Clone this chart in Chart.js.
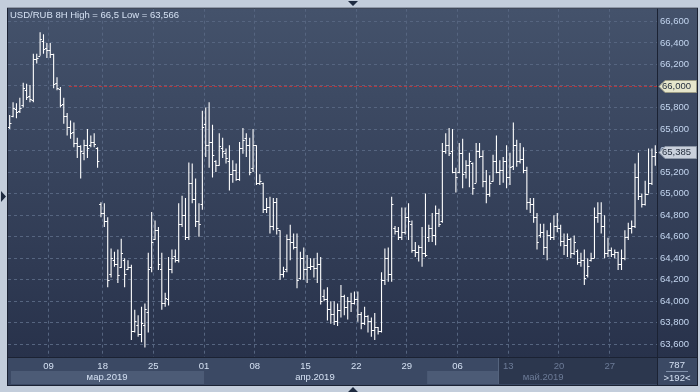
<!DOCTYPE html>
<html>
<head>
<meta charset="utf-8">
<script src="https://cdn.jsdelivr.net/npm/chart.js@4.4.1/dist/chart.umd.min.js"></script>
<style>
  html, body { margin: 0; padding: 0; background: #c3cddb; }
  canvas { display: block; }
</style>
</head>
<body>
<canvas id="chart" width="700" height="392"></canvas>
<script>
// USD/RUB, 8H bars, 192 of them (index 0..191)
const titleText = "USD/RUB 8H High = 66,5 Low = 63,566";

const openP = [
  65.62, 65.72, 65.79, 65.77, 65.82, 65.96, 65.91, 65.87, 66.25, 66.28, 66.42, 66.35,
  66.33, 66.30, 66.03, 65.97, 65.83, 65.72, 65.62, 65.57, 65.47, 65.44, 65.38, 65.45,
  65.45, 65.48, 65.42, 64.90, 64.82, 64.75, 64.25, 64.38, 64.35, 64.32, 64.38, 64.30,
  64.32, 63.72, 63.78, 63.70, 63.78, 63.90, 64.32, 64.58, 64.66, 64.30, 63.98, 64.02,
  64.30, 64.42, 64.38, 64.72, 64.80, 64.60, 65.10, 64.95, 64.75, 64.90, 65.65, 65.45,
  65.48, 65.30, 65.27, 65.42, 65.38, 65.30, 65.18, 65.22, 65.14, 65.42, 65.52, 65.45,
  65.24, 65.45, 65.10, 65.10, 64.86, 64.88, 64.70, 64.92, 64.66, 64.25, 64.30, 64.58,
  64.55, 64.50, 64.22, 64.40, 64.30, 64.32, 64.33, 64.31, 64.35, 64.05, 64.02, 63.93,
  63.88, 63.82, 63.92, 64.05, 63.95, 64.00, 63.98, 64.02, 63.88, 63.80, 63.86, 63.82,
  63.73, 63.76, 63.72, 64.20, 64.40, 64.25, 64.68, 64.65, 64.60, 64.64, 64.78, 64.72,
  64.48, 64.46, 64.50, 64.45, 64.60, 64.68, 64.62, 64.82, 64.75, 65.40, 65.45, 65.40,
  65.20, 65.20, 65.38, 65.20, 65.27, 65.28, 65.10, 65.40, 65.35, 65.12, 65.00, 65.12,
  65.30, 65.20, 65.22, 65.30, 65.15, 65.26, 65.45, 65.30, 65.32, 65.22, 64.92, 64.90,
  64.78, 64.62, 64.64, 64.50, 64.62, 64.60, 64.70, 64.68, 64.56, 64.52, 64.58, 64.45,
  64.47, 64.36, 64.38, 64.24, 64.38, 64.40, 64.78, 64.82, 64.70, 64.45, 64.48, 64.44,
  64.46, 64.35, 64.40, 64.60, 64.68, 64.70, 65.15, 64.98, 64.90, 65.00, 65.10, 65.35
];
const highP = [
  65.73, 65.85, 65.84, 65.89, 66.03, 66.02, 66.01, 66.30, 66.30, 66.50, 66.48, 66.40,
  66.40, 66.30, 66.08, 65.99, 65.89, 65.75, 65.68, 65.66, 65.52, 65.45, 65.50, 65.60,
  65.54, 65.56, 65.43, 64.92, 64.91, 64.78, 64.49, 64.46, 64.48, 64.58, 64.40, 64.38,
  64.34, 63.92, 63.87, 63.95, 63.98, 64.45, 64.83, 64.75, 64.69, 64.45, 64.08, 64.41,
  64.48, 64.48, 64.91, 64.98, 64.96, 65.29, 65.28, 65.14, 64.91, 65.77, 65.80, 65.85,
  65.64, 65.31, 65.56, 65.52, 65.42, 65.45, 65.31, 65.28, 65.48, 65.61, 65.56, 65.52,
  65.60, 65.45, 65.18, 65.10, 64.96, 64.97, 64.96, 64.96, 64.66, 64.32, 64.62, 64.71,
  64.63, 64.63, 64.46, 64.50, 64.43, 64.40, 64.40, 64.45, 64.41, 64.11, 64.13, 64.00,
  64.00, 63.98, 64.15, 64.06, 64.04, 64.08, 64.09, 64.09, 63.90, 63.95, 63.87, 63.85,
  63.89, 63.76, 64.27, 64.49, 64.50, 64.97, 64.70, 64.69, 64.87, 64.87, 64.91, 64.75,
  64.55, 64.52, 64.69, 65.00, 64.71, 64.82, 64.89, 64.86, 65.47, 65.56, 65.61, 65.60,
  65.24, 65.47, 65.51, 65.31, 65.38, 65.29, 65.47, 65.47, 65.40, 65.22, 65.17, 65.36,
  65.54, 65.31, 65.34, 65.45, 65.38, 65.66, 65.50, 65.47, 65.43, 65.25, 64.96, 64.96,
  64.82, 64.72, 64.72, 64.66, 64.73, 64.80, 64.82, 64.71, 64.63, 64.63, 64.59, 64.61,
  64.48, 64.45, 64.48, 64.40, 64.45, 64.87, 64.92, 64.92, 64.80, 64.59, 64.50, 64.48,
  64.46, 64.48, 64.66, 64.73, 64.75, 65.28, 65.38, 65.00, 65.12, 65.42, 65.42, 65.45
];
const lowP = [
  65.60, 65.71, 65.70, 65.75, 65.80, 65.87, 65.85, 65.85, 66.21, 66.28, 66.30, 66.26,
  66.26, 65.98, 65.96, 65.80, 65.65, 65.54, 65.51, 65.43, 65.33, 65.14, 65.31, 65.33,
  65.43, 65.43, 65.24, 64.78, 64.69, 64.13, 64.22, 64.32, 64.17, 64.31, 64.13, 64.29,
  63.64, 63.71, 63.67, 63.62, 63.57, 63.71, 64.27, 64.57, 64.29, 63.92, 63.95, 63.96,
  64.26, 64.36, 64.36, 64.69, 64.57, 64.57, 64.91, 64.69, 64.60, 64.85, 65.34, 65.24,
  65.15, 65.20, 65.26, 65.33, 65.28, 65.03, 65.10, 65.12, 65.12, 65.37, 65.34, 65.17,
  65.20, 65.08, 65.08, 64.82, 64.82, 64.63, 64.66, 64.62, 64.20, 64.22, 64.27, 64.38,
  64.48, 64.12, 64.20, 64.20, 64.17, 64.29, 64.22, 64.17, 63.97, 64.00, 63.82, 63.79,
  63.78, 63.77, 63.85, 63.87, 63.83, 63.90, 63.97, 63.81, 63.74, 63.78, 63.71, 63.67,
  63.64, 63.69, 63.71, 64.15, 64.18, 64.18, 64.62, 64.57, 64.57, 64.62, 64.57, 64.45,
  64.41, 64.37, 64.32, 64.41, 64.55, 64.55, 64.52, 64.69, 64.73, 65.37, 65.35, 65.19,
  65.01, 65.19, 65.05, 65.14, 65.06, 64.99, 65.10, 65.33, 65.06, 64.91, 64.97, 65.11,
  65.19, 65.08, 65.10, 65.05, 65.08, 65.22, 65.25, 65.28, 65.19, 64.85, 64.82, 64.73,
  64.48, 64.59, 64.43, 64.38, 64.57, 64.57, 64.64, 64.51, 64.43, 64.41, 64.40, 64.43,
  64.34, 64.32, 64.15, 64.22, 64.37, 64.40, 64.73, 64.63, 64.40, 64.41, 64.41, 64.40,
  64.29, 64.29, 64.38, 64.57, 64.63, 64.68, 64.94, 64.87, 64.89, 65.00, 65.08, 65.26
];
const closeP = [
  65.66, 65.80, 65.76, 65.80, 65.98, 65.90, 65.88, 66.25, 66.26, 66.44, 66.34, 66.33,
  66.30, 66.02, 65.98, 65.82, 65.72, 65.62, 65.56, 65.47, 65.44, 65.40, 65.45, 65.42,
  65.48, 65.46, 65.30, 64.82, 64.75, 64.20, 64.40, 64.35, 64.24, 64.45, 64.25, 64.32,
  63.72, 63.82, 63.70, 63.80, 63.93, 64.30, 64.55, 64.66, 64.35, 63.98, 64.03, 64.30,
  64.40, 64.38, 64.72, 64.80, 64.60, 65.10, 64.95, 64.75, 64.72, 65.62, 65.45, 65.48,
  65.36, 65.27, 65.44, 65.40, 65.33, 65.18, 65.22, 65.14, 65.42, 65.50, 65.45, 65.20,
  65.45, 65.10, 65.12, 64.86, 64.88, 64.70, 64.92, 64.68, 64.25, 64.28, 64.58, 64.55,
  64.50, 64.20, 64.40, 64.30, 64.32, 64.33, 64.31, 64.35, 64.00, 64.02, 63.93, 63.88,
  63.82, 63.92, 64.05, 63.95, 64.00, 63.98, 64.02, 63.88, 63.80, 63.86, 63.82, 63.73,
  63.76, 63.72, 64.20, 64.40, 64.25, 64.90, 64.65, 64.60, 64.64, 64.78, 64.75, 64.48,
  64.46, 64.50, 64.45, 64.43, 64.68, 64.62, 64.82, 64.72, 65.40, 65.45, 65.38, 65.20,
  65.15, 65.38, 65.18, 65.27, 65.30, 65.05, 65.40, 65.35, 65.12, 65.00, 65.10, 65.30,
  65.20, 65.22, 65.30, 65.15, 65.25, 65.45, 65.30, 65.32, 65.22, 64.92, 64.90, 64.78,
  64.55, 64.64, 64.50, 64.62, 64.60, 64.70, 64.68, 64.56, 64.52, 64.58, 64.45, 64.55,
  64.36, 64.38, 64.22, 64.33, 64.40, 64.78, 64.82, 64.70, 64.45, 64.48, 64.44, 64.46,
  64.35, 64.40, 64.60, 64.68, 64.70, 65.15, 64.98, 64.90, 65.00, 65.10, 65.35, 65.385
];

// day labels sit on the boundary between bars
const dayTicks = [11.5, 27.5, 42.5, 57.5, 72.5, 87.5, 102.5, 117.5, 132.5, 147.5, 162.5, 177.5];
const dayLabels = ["09", "18", "25", "01", "08", "15", "22", "29", "06", "13", "20", "27"];
const monthLabels = ["мар.2019", "апр.2019", "май.2019"];
const monthAt = [28.8, 90.3, 157.8];

const priceTicks = [63.6, 63.8, 64.0, 64.2, 64.4, 64.6, 64.8, 65.0, 65.2, 65.4, 65.6, 65.8, 66.0, 66.2, 66.4, 66.6];
const levelLine = 66.0;
const lastPrice = 65.385;
const cornerText = ["787", ">192<"];

const FONT = "'Liberation Sans', Arial, sans-serif";
const fmt = v => v.toFixed(3).replace('.', ',');

const decor = {
  id: 'decor',
  beforeDraw(chart) {
    const { ctx, chartArea: a, scales: { x } } = chart;
    const right = chart.width - 3, bottom = chart.height - 7;
    ctx.save();
    ctx.fillStyle = '#c3cddb';
    ctx.fillRect(0, 0, chart.width, chart.height);

    // plot + price axis background
    const g = ctx.createLinearGradient(0, a.top, 0, a.bottom);
    g.addColorStop(0, '#44526b');
    g.addColorStop(1, '#28324b');
    ctx.fillStyle = g;
    ctx.fillRect(a.left, a.top, right - a.left, a.bottom - a.top);

    // time axis strip
    ctx.fillStyle = '#3b4964';
    ctx.fillRect(a.left, a.bottom, right - a.left, bottom - a.bottom);
    ctx.fillStyle = '#4c5b76';
    ctx.fillRect(a.left + 3, a.bottom + 14, x.getPixelForValue(57.5) - a.left - 3, 13);
    ctx.fillRect(x.getPixelForValue(123.5), a.bottom + 14, x.getPixelForValue(144.5) - x.getPixelForValue(123.5), 13);
    ctx.fillStyle = '#2c374e';
    ctx.fillRect(x.getPixelForValue(144.5), a.bottom + 1, a.right - x.getPixelForValue(144.5), 26);
    ctx.fillStyle = '#55647e';
    ctx.fillRect(Math.round(x.getPixelForValue(144.5)), a.bottom + 1, 1, 26);
    ctx.restore();
  },
  beforeDatasetsDraw(chart) {
    const { ctx, chartArea: a, scales: { y } } = chart;
    const yy = Math.round(y.getPixelForValue(levelLine)) + 0.5;
    ctx.save();
    ctx.strokeStyle = '#b5363c';
    ctx.lineWidth = 1;
    ctx.setLineDash([3, 2]);
    ctx.beginPath();
    ctx.moveTo(69, yy);
    ctx.lineTo(a.right, yy);
    ctx.stroke();
    ctx.restore();
  },
  afterDraw(chart) {
    const { ctx, chartArea: a, scales: { x, y } } = chart;
    const right = chart.width - 3, bottom = chart.height - 7;
    ctx.save();

    // frame
    ctx.strokeStyle = '#1b2233';
    ctx.lineWidth = 1;
    ctx.strokeRect(a.left - 0.5, a.top - 0.5, right - a.left + 1, bottom - a.top + 1);
    ctx.beginPath();
    ctx.moveTo(a.right + 0.5, a.top);
    ctx.lineTo(a.right + 0.5, bottom);
    ctx.moveTo(a.left, a.bottom + 0.5);
    ctx.lineTo(right, a.bottom + 0.5);
    ctx.stroke();

    // title
    ctx.font = '9.5px ' + FONT;
    ctx.textBaseline = 'middle';
    ctx.textAlign = 'left';
    ctx.fillStyle = '#d4e0f2';
    ctx.fillText(titleText, 10, 15);

    // month row
    ctx.textAlign = 'center';
    monthLabels.forEach((m, i) => {
      ctx.fillStyle = i === 2 ? '#6c7b97' : '#d4e0f2';
      ctx.fillText(m, x.getPixelForValue(monthAt[i]), a.bottom + 20);
    });

    // price tags
    const tag = (v, fill, stroke) => {
      const yy = Math.round(y.getPixelForValue(v)) + 0.5;
      ctx.beginPath();
      ctx.moveTo(a.right + 2, yy);
      ctx.lineTo(a.right + 8, yy - 6);
      ctx.lineTo(right - 0.5, yy - 6);
      ctx.lineTo(right - 0.5, yy + 6);
      ctx.lineTo(a.right + 8, yy + 6);
      ctx.closePath();
      ctx.fillStyle = fill;
      ctx.fill();
      ctx.strokeStyle = stroke;
      ctx.stroke();
      ctx.fillStyle = '#26303f';
      ctx.textAlign = 'left';
      ctx.fillText(fmt(v), a.right + 5, yy);
    };
    tag(levelLine, '#e6e6cc', '#9c9c86');
    tag(lastPrice, '#c9d0dc', '#8e98a8');

    // corner box
    const cx = (a.right + right) / 2;
    ctx.textAlign = 'center';
    ctx.fillStyle = '#d4e0f2';
    ctx.fillText(cornerText[0], cx, a.bottom + 8);
    ctx.fillText(cornerText[1], cx, a.bottom + 21);
    ctx.fillStyle = '#8090aa';
    ctx.fillRect(cx - 11, a.bottom + 14, 22, 1);

    // little markers on the outer frame
    ctx.fillStyle = '#1e2a40';
    ctx.beginPath();
    ctx.moveTo(348, 1); ctx.lineTo(358, 1); ctx.lineTo(353, 6); ctx.closePath();
    ctx.moveTo(348, 392); ctx.lineTo(358, 392); ctx.lineTo(353, 387); ctx.closePath();
    ctx.moveTo(1, 191); ctx.lineTo(1, 202); ctx.lineTo(6, 196.5); ctx.closePath();
    ctx.fill();
    ctx.restore();
  }
};

// open tick on the left, close tick on the right
const ohlcTicks = {
  id: 'ohlcTicks',
  afterDatasetsDraw(chart) {
    const { ctx, scales: { x, y } } = chart;
    ctx.save();
    ctx.strokeStyle = '#ffffff';
    ctx.lineWidth = 1;
    ctx.beginPath();
    openP.forEach((o, i) => {
      const px = x.getPixelForValue(i);
      const yo = Math.round(y.getPixelForValue(o)) + 0.5;
      const yc = Math.round(y.getPixelForValue(closeP[i])) + 0.5;
      ctx.moveTo(px - 1.8, yo);
      ctx.lineTo(px, yo);
      ctx.moveTo(px, yc);
      ctx.lineTo(px + 1.8, yc);
    });
    ctx.stroke();
    ctx.restore();
  }
};

new Chart(document.getElementById('chart'), {
  type: 'bar',
  data: {
    datasets: [{
      data: highP.map((h, i) => ({ x: i, y: [lowP[i], h] })),
      backgroundColor: '#ffffff',
      borderWidth: 0,
      barThickness: 1.1,
      inflateAmount: 0,
      grouped: false
    }]
  },
  options: {
    responsive: false,
    animation: false,
    layout: { padding: { left: 8, top: 8, right: 3, bottom: 7 } },
    plugins: { legend: { display: false }, tooltip: { enabled: false } },
    scales: {
      x: {
        type: 'linear',
        offset: false,
        min: -0.5,
        max: 191.5,
        afterBuildTicks: s => { s.ticks = dayTicks.map(v => ({ value: v })); },
        afterFit: s => { s.height = 28; },
        grid: { color: '#566580', drawTicks: false, offset: false },
        border: { display: false, dash: [3, 3] },
        ticks: {
          autoSkip: false,
          maxRotation: 0,
          padding: 4,
          font: { family: FONT, size: 9.5 },
          color: c => (c.index >= 9 ? '#6c7b97' : '#d4e0f2'),
          callback: (v, i) => dayLabels[i]
        }
      },
      y: {
        position: 'right',
        min: 63.482,
        max: 66.718,
        afterBuildTicks: s => { s.ticks = priceTicks.map(v => ({ value: v })); },
        afterFit: s => { s.width = 40; },
        grid: { color: '#566580', drawTicks: false },
        border: { display: false, dash: [3, 3] },
        ticks: {
          padding: 3,
          font: { family: FONT, size: 9.5 },
          color: '#c4d6f0',
          callback: v => fmt(v)
        }
      }
    }
  },
  plugins: [decor, ohlcTicks]
});
</script>
</body>
</html>
